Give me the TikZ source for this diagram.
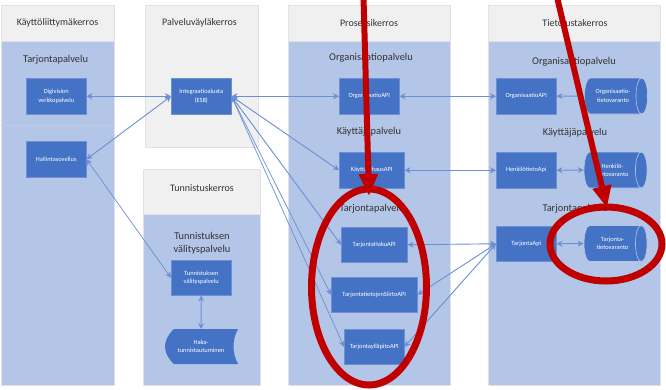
\documentclass[tikz,border=0pt]{standalone}
\usepackage{fontspec}
\setmainfont{Carlito}
\usetikzlibrary{arrows.meta,shapes.geometric}
\definecolor{laneblue}{HTML}{B4C6E7}
\definecolor{headgrey}{HTML}{F0F0F0}
\definecolor{lanerule}{HTML}{E2E2E2}
\definecolor{boxblue}{HTML}{4472C4}
\definecolor{boxrule}{HTML}{6F8FD0}
\definecolor{linkblue}{HTML}{6A8FD4}
\definecolor{markred}{HTML}{C00000}
\definecolor{ink}{HTML}{333333}
\tikzset{
 x=1pt,y=-1pt,
 lanehead/.style={draw=lanerule,fill=headgrey,line width=.7pt},
 lanebody/.style={draw=lanerule,fill=laneblue,line width=.7pt},
 titletext/.style={text=ink,font=\fontsize{10}{12}\selectfont,align=center,inner sep=0pt},
 grouptext/.style={text=ink,font=\fontsize{10.4}{13}\selectfont,align=center,inner sep=0pt},
 svcbox/.style={draw=boxrule,fill=boxblue,text=white,font=\fontsize{6.4}{8.4}\selectfont,align=center,inner sep=0pt,line width=.5pt,anchor=north west},
 store/.style={shape=cylinder,shape aspect=.9,draw=laneblue,fill=boxblue,text=white,font=\fontsize{6.4}{8.4}\selectfont,align=center,inner sep=0pt,line width=.6pt,minimum height=63pt,minimum width=36pt},
 link/.style={draw=linkblue,line width=.9pt,{Stealth[length=6pt,width=6pt]}-{Stealth[length=6pt,width=6pt]}},
 linkone/.style={draw=linkblue,line width=.9pt,{Stealth[length=6pt,width=6pt]}-},
 thinlink/.style={link,line width=.7pt},
 redmark/.style={draw=markred,line width=7pt},
 redarrow/.style={draw=markred,line width=6pt,-{Triangle[length=22pt,width=18pt]}}
}
\newcommand{\svc}[6]{\node[svcbox,minimum width=#4pt,minimum height=#5pt] (#1) at (#2,#3) {#6};}
\begin{document}
\begin{tikzpicture}
\useasboundingbox (0,0) rectangle (666,389);
% lanes
\path[lanehead] (1,5) rectangle (114,41);
\path[lanebody] (1,41) rectangle (114,385);
\draw[draw=lanerule!20!laneblue,line width=.3pt] (1,125.5) -- (114,125.5);
\path[lanehead] (145,5) rectangle (258,147);
\path[lanehead] (143,169) rectangle (260,214);
\path[lanebody] (143,214) rectangle (260,385);
\path[lanehead] (288,5) rectangle (450,41);
\path[lanebody] (288,41) rectangle (450,385);
\path[lanehead] (488,5) rectangle (660,41);
\path[lanebody] (488,41) rectangle (660,385);
% titles
\node[titletext] (t1) at (57.5,23) {Käyttöliittymäkerros};
\node[titletext] (t2) at (199.5,23) {Palveluväyläkerros};
\node[titletext] (t3) at (202,188) {Tunnistuskerros};
\node[titletext] (t4) at (369,23) {Prosessikerros};
\node[titletext] (t5) at (575,23) {Tietolustakerros};
\node[grouptext] (g1) at (55.5,60) {Tarjontapalvelu};
\node[grouptext] (g2) at (202,243) {Tunnistuksen\\välityspalvelu};
\node[grouptext] (g3) at (371,57.5) {Organisaatiopalvelu};
\node[grouptext] (g4) at (369,132) {Käyttäjäpalvelu};
\node[grouptext] (g5) at (372,208.5) {Tarjontapalvelu};
\node[grouptext] (g6) at (574,62) {Organisaatiopalvelu};
\node[grouptext] (g7) at (575,133) {Käyttäjäpalvelu};
\node[grouptext] (g8) at (575,208.5) {Tarjontapalvelu};
% boxes
\svc{digi}{26}{78}{60}{36}{Digivision\\verkkopalvelu}
\svc{hall}{26}{141}{60}{36}{Hallintasovellus}
\svc{esb}{171}{78}{60}{36}{Integraatioalusta\\(ESB)}
\svc{tunn}{171}{260}{60}{35}{Tunnistuksen\\välityspalvelu}
\svc{porg}{339}{78}{60}{36}{OrganisaatioAPI}
\svc{pkay}{339}{152}{65}{36}{KäyttäjähausAPI}
\svc{phak}{341}{227}{66}{35}{TarjontaHakuAPI}
\svc{psii}{331}{277}{86}{35}{TarjontatietojenSiirtoAPI}
\svc{pyll}{344}{329}{60}{35}{TarjontaylläpitoAPI}
\svc{torg}{496}{78}{60}{36}{OrganisaatioAPI}
\svc{then}{496}{152}{60}{36}{HenkilötietoApi}
\svc{ttar}{496}{226}{60}{35}{TarjontaApi}
\node[store] (corg) at (613,96) {Organisaatio-\\tietovaranto};
\node[store] (chen) at (612.5,170) {Henkilö-\\tietovaranto};
\node[store] (ctar) at (612.5,243.5) {Tarjonta-\\tietovaranto};
% Haka stored-data shape
\fill[boxblue] (174,329) -- (238,329) .. controls (232,340) and (232,353) .. (238,364) -- (174,364) .. controls (162,353) and (162,340) .. (174,329) -- cycle;
\node[text=white,font=\fontsize{6.4}{8.4}\selectfont,align=center,inner sep=0pt] (haka) at (201,346.5) {Haka-\\tunnistautuminen};
% links
\draw[link] (digi.east) -- (esb.west);
\draw[link] (hall.east) -- (esb.west);
\draw[thinlink] (hall.east) -- (tunn.west);
\draw[link] (tunn.south) -- (201,329);
\draw[link] (esb.east) -- (porg.west);
\draw[link] (esb.east) -- (pkay.west);
\draw[link] (esb.east) -- (phak.west);
\draw[thinlink] (esb.east) -- (psii.west);
\draw[thinlink] (esb.east) -- (pyll.west);
\draw[link] (porg.east) -- (torg.west);
\draw[link] (pkay.east) -- (then.west);
\draw[link] (phak.east) -- (ttar.west);
\draw[link] (psii.east) -- (ttar.west);
\draw[link] (pyll.east) -- (ttar.west);
\draw[linkone] (torg.east) -- (corg.west);
\draw[link] (then.east) -- (chen.west);
\draw[link] (ttar.east) -- (ctar.west);
% red marks
\coordinate (a1s) at (363.5,-3);
\coordinate (a1e) at (369,196);
\coordinate (a2s) at (557,-3);
\coordinate (a2e) at (607,208);
\draw[redarrow] (a1s) -- (a1e);
\draw[redarrow] (a2s) -- (a2e);
\draw[redmark] (369,287) ellipse [x radius=57.5,y radius=98];
\draw[redmark] (606,244) ellipse [x radius=56,y radius=37];
\end{tikzpicture}
\end{document}
